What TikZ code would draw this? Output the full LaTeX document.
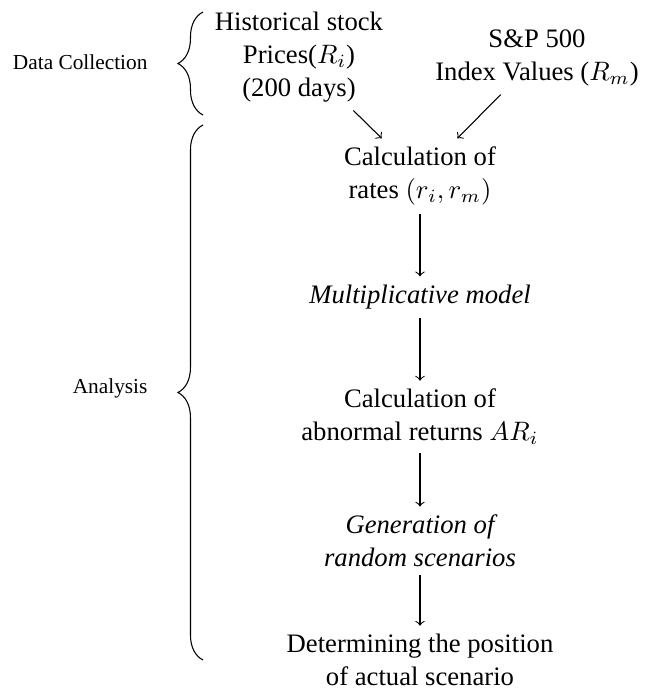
\documentclass[tikz,border=0pt]{standalone}
\usepackage{fontspec}
\setmainfont{Liberation Serif}
\usetikzlibrary{decorations.pathreplacing}
\begin{document}
\begin{tikzpicture}[x=0.375pt,y=-0.375pt,
  txt/.style={font=\fontsize{10}{12.3}\selectfont, align=center, inner sep=3pt},
  itxt/.style={font=\fontsize{10}{12.3}\selectfont\itshape, align=center, inner sep=3pt},
  lbl/.style={font=\fontsize{8}{9.6}\selectfont, anchor=east, inner sep=0pt},
  arr/.style={->, >=to, line width=0.4pt},
  br/.style={decorate, decoration={brace, amplitude=9.4pt}, line width=0.4pt}]
\useasboundingbox (0,0) rectangle (666,689);
\node[txt] (hist) at (299,57) {Historical stock\\Prices($R_i$)\\(200 days)};
\node[txt] (sp) at (537,58) {S\&P 500\\Index Values ($R_m$)};
\node[txt] (rates) at (420,176) {Calculation of\\rates $(r_i,r_m)$};
\node[itxt] (mult) at (420,297) {Multiplicative model};
\node[txt] (abn) at (420,417) {Calculation of\\abnormal returns $AR_i$};
\node[itxt] (gen) at (420,541) {Generation of\\random scenarios};
\node[txt] (det) at (420,660) {Determining the position\\of actual scenario};
\draw[arr] (hist) -- (rates);
\draw[arr] (sp) -- (rates);
\draw[arr] (rates) -- (mult);
\draw[arr] (mult) -- (abn);
\draw[arr] (abn) -- (gen);
\draw[arr] (gen) -- (det);
\coordinate (b1top) at (203,12);
\coordinate (b1bot) at (203,115);
\coordinate (b2top) at (203,125);
\coordinate (b2bot) at (203,660);
\draw[br] (b1bot) -- (b1top);
\draw[br] (b2bot) -- (b2top);
\node[lbl] (dc) at (148,62) {Data Collection};
\node[lbl] (an) at (148,388) {Analysis};
\end{tikzpicture}
\end{document}
